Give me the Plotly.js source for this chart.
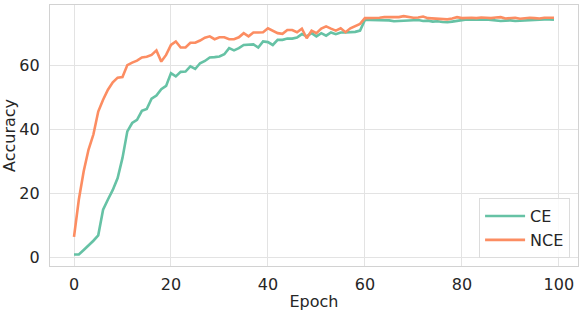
<!DOCTYPE html>
<html>
<head>
<meta charset="utf-8">
<script src="https://cdn.plot.ly/plotly-3.0.1.min.js"></script>
<style>
  html, body { margin: 0; padding: 0; background: #ffffff; }
  #chart { width: 581px; height: 312px; }
</style>
</head>
<body>
<div id="chart"></div>
<script>
// accuracy per epoch
var ce_acc = [
  0.8, 0.8, 2.2, 3.6, 5.1, 6.8, 14.8, 18.0, 21.0, 24.7,
  31.0, 39.3, 41.9, 42.9, 45.7, 46.3, 49.5, 50.5, 52.5, 53.5,
  57.5, 56.5, 57.9, 58.0, 59.6, 58.8, 60.6, 61.3, 62.4, 62.5,
  62.7, 63.4, 65.3, 64.6, 65.3, 66.3, 66.5, 66.5, 65.5, 67.4,
  67.2, 66.3, 67.9, 67.9, 68.3, 68.3, 68.6, 69.7, 69.0, 70.0,
  69.0, 70.0, 69.2, 70.2, 69.7, 70.2, 70.2, 70.3, 70.4, 70.8,
  74.1, 74.1, 74.1, 73.9, 74.1, 74.0, 73.7, 73.8, 74.0, 74.1,
  74.2, 74.1, 73.8, 73.9, 73.6, 73.7, 73.5, 73.4, 73.6, 73.9,
  74.2, 74.3, 74.2, 74.1, 74.2, 74.3, 74.1, 74.0, 73.8, 73.9,
  74.0, 73.8, 73.9, 74.1, 74.0, 74.1, 74.2, 74.3, 74.3, 74.2
];
var nce_acc = [
  6.3, 18.0, 26.8, 33.6, 38.3, 45.5, 49.2, 52.3, 54.6, 56.1,
  56.3, 60.0, 60.8, 61.4, 62.4, 62.6, 63.2, 64.6, 61.1, 63.2,
  66.3, 67.4, 65.5, 65.5, 67.0, 67.0, 67.7, 68.6, 69.0, 68.1,
  68.7, 68.7, 68.1, 68.1, 68.7, 70.0, 69.0, 70.2, 70.2, 70.3,
  71.5, 70.8, 70.0, 69.8, 71.0, 71.0, 70.3, 71.4, 68.4, 70.8,
  70.0, 71.4, 72.1, 71.4, 70.8, 71.5, 70.3, 71.5, 72.1, 72.9,
  74.7, 74.7, 74.9, 74.8, 75.0, 75.0, 75.1, 75.0, 75.3, 75.0,
  74.8, 74.9, 75.2, 74.7, 74.6, 74.5, 74.6, 74.3, 74.6, 75.0,
  74.7, 74.8, 74.8, 74.7, 74.9, 74.8, 74.7, 74.9, 75.0, 74.6,
  74.7, 74.8, 74.5, 74.7, 74.8, 74.7, 74.6, 74.8, 74.9, 74.8
];
var series_names = ["CE", "NCE"];
var x_ticks = [0, 20, 40, 60, 80, 100];
var y_ticks = [0, 20, 40, 60];

var epochs = [];
for (var i = 0; i < ce_acc.length; i++) {
  epochs.push(i);
}

var font_main = "DejaVu Sans, sans-serif";
var grid_col = "#e3e3e3";
var frame_col = "#d2d2d2";
var txt_col = "#262626";

var traces = [
  {
    type: "scatter",
    mode: "lines",
    name: series_names[0],
    x: epochs,
    y: ce_acc,
    line: {color: "#66c2a5", width: 2.6}
  },
  {
    type: "scatter",
    mode: "lines",
    name: series_names[1],
    x: epochs,
    y: nce_acc,
    line: {color: "#fc8d62", width: 2.6}
  }
];

var layout = {
  width: 581,
  height: 312,
  paper_bgcolor: "#ffffff",
  plot_bgcolor: "#ffffff",
  margin: {l: 50, r: 3, t: 5, b: 46},
  font: {family: font_main, size: 16, color: txt_col},
  showlegend: true,
  legend: {
    x: 0.985,
    y: 0.03,
    xanchor: "right",
    yanchor: "bottom",
    bgcolor: "rgba(255,255,255,0.8)",
    bordercolor: "#dcdcdc",
    borderwidth: 1,
    font: {family: font_main, size: 16, color: txt_col},
    itemwidth: 40,
    tracegroupgap: 2
  },
  xaxis: {
    range: [-4.95, 103.95],
    tickvals: x_ticks,
    ticks: "",
    showgrid: true,
    gridcolor: grid_col,
    gridwidth: 1,
    zeroline: false,
    showline: true,
    mirror: true,
    linecolor: frame_col,
    linewidth: 1.2,
    ticklabelstandoff: 4,
    title: {text: "Epoch", font: {family: font_main, size: 16, color: txt_col}, standoff: 2}
  },
  yaxis: {
    range: [-2.8, 78.8],
    tickvals: y_ticks,
    ticks: "",
    showgrid: true,
    gridcolor: grid_col,
    gridwidth: 1,
    zeroline: false,
    showline: true,
    mirror: true,
    linecolor: frame_col,
    linewidth: 1.2,
    ticklabelstandoff: 6,
    title: {text: "Accuracy", font: {family: font_main, size: 16, color: txt_col}, standoff: 4}
  }
};

var config = {displayModeBar: false, staticPlot: true};

Plotly.newPlot("chart", traces, layout, config);
</script>
</body>
</html>
